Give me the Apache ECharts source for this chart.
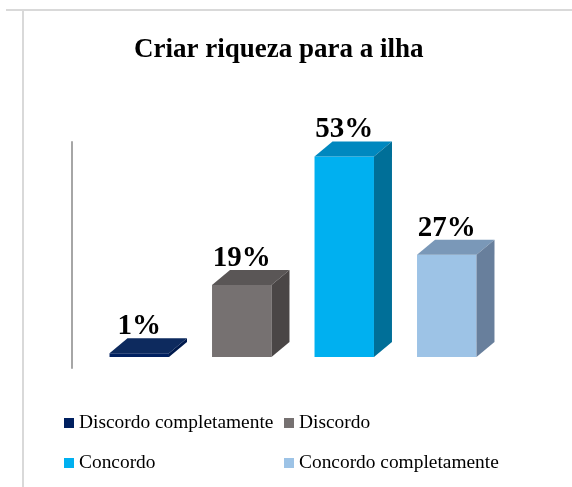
<!DOCTYPE html>
<html>
<head>
<meta charset="utf-8">
<script src="https://cdn.jsdelivr.net/npm/echarts@6/dist/echarts.min.js"></script>
<style>
  html, body { margin: 0; padding: 0; background: #fff; }
  #chart { width: 572px; height: 487px; }
</style>
</head>
<body>
<div id="chart"></div>
<script>
// dados
const categories = ['Discordo completamente', 'Discordo', 'Concordo', 'Concordo completamente'];
const values = [1, 19, 53, 27];

// cores: frente, topo, lado
const frontColors = ['#002060', '#767171', '#00b0f0', '#9dc3e6'];
const topColors = ['#0d2a5e', '#5a5656', '#0088bf', '#7a98b8'];
const sideColors = ['#001a4d', '#4a4646', '#006f98', '#687f9c'];

const DX = 18, DY = 15;
const serif = '"Liberation Serif", "Times New Roman", serif';

const myChart = echarts.init(document.getElementById('chart'));

function render3d(i) {
    return function (params, api) {
        const top = api.coord([api.value(0), api.value(1)]);
        const base = api.coord([api.value(0), 0]);
        const w = api.size([1, 0])[0] * 0.58;
        const x0 = top[0] - w / 2, x1 = top[0] + w / 2;
        const yT = top[1], yB = base[1];
        return {
            type: 'group',
            children: [
                { type: 'rect', shape: { x: x0, y: yT, width: w, height: yB - yT }, style: { fill: frontColors[i] } },
                { type: 'polygon', shape: { points: [[x0, yT], [x1, yT], [x1 + DX, yT - DY], [x0 + DX, yT - DY]] }, style: { fill: topColors[i] } },
                { type: 'polygon', shape: { points: [[x1, yT], [x1 + DX, yT - DY], [x1 + DX, yB - DY], [x1, yB]] }, style: { fill: sideColors[i] } },
                {
                    type: 'text', x: top[0], y: yT - DY + 3,
                    style: {
                        text: api.value(1) + '%', textAlign: 'center', textVerticalAlign: 'bottom',
                        font: 'bold 29px ' + serif, fill: '#000'
                    }
                }
            ]
        };
    };
}

const series = categories.map((name, i) => ({
    name: name,
    type: 'custom',
    xAxisIndex: 0,
    yAxisIndex: 0,
    itemStyle: { color: frontColors[i] },
    renderItem: render3d(i),
    encode: { x: 0, y: 1 },
    data: [[i, values[i]]]
}));

const legendBase = {
    orient: 'vertical',
    icon: 'rect',
    itemWidth: 10,
    itemHeight: 10,
    itemGap: 18,
    padding: 0,
    top: 412,
    height: 75,
    textStyle: { fontFamily: serif, fontSize: 19.4, color: '#000', lineHeight: 22 }
};

const option = {
    animation: false,
    title: {
        text: 'Criar riqueza para a ilha',
        left: 134,
        top: 37,
        padding: 0,
        textStyle: { fontFamily: serif, fontSize: 27, fontWeight: 'bold', color: '#000' }
    },
    legend: [
        Object.assign({}, legendBase, { left: 64, data: [categories[0], categories[2]] }),
        Object.assign({}, legendBase, { left: 284, data: [categories[1], categories[3]] })
    ],
    grid: [
        { left: 88, right: 74, top: 130, bottom: 130 },
        { left: 72, width: 10, top: 142, bottom: 119 }
    ],
    xAxis: [
        { type: 'category', data: categories, gridIndex: 0, show: false },
        { type: 'category', data: [''], gridIndex: 1, show: false }
    ],
    yAxis: [
        { type: 'value', min: 0, max: 60, gridIndex: 0, show: false },
        {
            type: 'value', gridIndex: 1, min: 0, max: 1,
            axisLine: { show: true, lineStyle: { color: '#a6a6a6', width: 2 } },
            axisTick: { show: false }, axisLabel: { show: false }, splitLine: { show: false }
        }
    ],
    graphic: [
        { type: 'line', shape: { x1: 6, y1: 10, x2: 572, y2: 10 }, style: { stroke: '#d9d9d9', lineWidth: 2 } },
        { type: 'line', shape: { x1: 23, y1: 10, x2: 23, y2: 487 }, style: { stroke: '#d9d9d9', lineWidth: 2 } }
    ],
    series: series
};

myChart.setOption(option);
</script>
</body>
</html>
